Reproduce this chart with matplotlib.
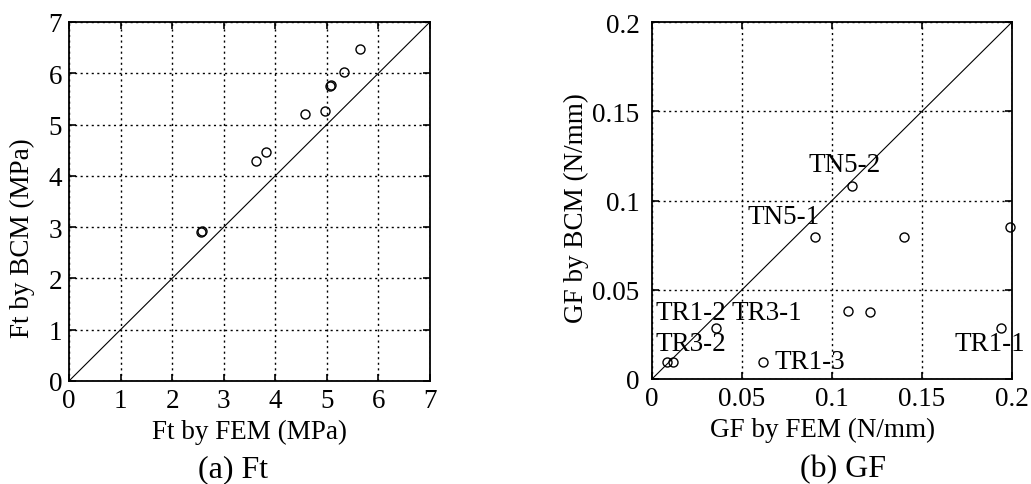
import numpy as np
import matplotlib
matplotlib.use("Agg")
import matplotlib.pyplot as plt

plt.rcParams["font.family"] = ["Liberation Serif", "DejaVu Serif"]

# (a) Ft  -- FEM vs BCM (MPa)
ft_fem = [2.56, 2.58, 3.63, 3.83, 4.57, 4.96, 5.07, 5.08, 5.33, 5.64]
ft_bcm = [2.91, 2.93, 4.29, 4.47, 5.21, 5.27, 5.75, 5.77, 6.02, 6.47]

# (b) GF  -- FEM vs BCM (N/mm)
gf_fem = [0.0085, 0.0115, 0.0356, 0.0615, 0.0904, 0.109, 0.111, 0.121, 0.140, 0.194, 0.199]
gf_bcm = [0.0097, 0.0097, 0.0286, 0.0097, 0.0797, 0.0383, 0.108, 0.0377, 0.0797, 0.0286, 0.0853]

gf_labels = ["TN5-2", "TN5-1", "TR1-2", "TR3-1", "TR3-2", "TR1-3", "TR1-1"]
gf_label_x = [0.107, 0.073, 0.002, 0.044, 0.002, 0.068, 0.168]
gf_label_y = [0.120, 0.091, 0.037, 0.037, 0.020, 0.0099, 0.020]
gf_label_ha = ["center", "center", "left", "left", "left", "left", "left"]

fig = plt.figure(figsize=(10.31, 4.85), dpi=100)
ax1 = fig.add_axes([0.0669, 0.2124, 0.3501, 0.7402])
ax2 = fig.add_axes([0.6324, 0.2165, 0.3492, 0.7360])

fs = 19.5

def style(ax):
    ax.grid(True, color="black", linestyle=(0, (1.5, 2.5)), linewidth=1.0)
    ax.tick_params(direction="in", top=True, right=True, length=5, width=1.2,
                   labelsize=fs, pad=5)
    for s in ax.spines.values():
        s.set_linewidth(1.3)
        s.set_color("black")

# left panel
ax1.plot([0, 7], [0, 7], color="black", linewidth=0.8)
ax1.plot(ft_fem, ft_bcm, "o", mfc="none", mec="black", ms=6.5, mew=1.0)
ax1.set_xlim(0, 7)
ax1.set_ylim(0, 7)
ax1.set_xticks(range(0, 8))
ax1.set_yticks(range(0, 8))
style(ax1)
ax1.set_xlabel("Ft by FEM (MPa)", fontsize=fs, labelpad=4)
ax1.set_ylabel("Ft by BCM (MPa)", fontsize=fs)
ax1.yaxis.set_label_coords(-0.094, 0.40)

# right panel
ax2.plot([0, 0.2], [0, 0.2], color="black", linewidth=0.8)
ax2.plot(gf_fem, gf_bcm, "o", mfc="none", mec="black", ms=6.5, mew=1.0, clip_on=False)
ax2.set_xlim(0, 0.2)
ax2.set_ylim(0, 0.2)
ax2.set_xticks([0, 0.05, 0.1, 0.15, 0.2])
ax2.set_xticklabels(["0", "0.05", "0.1", "0.15", "0.2"])
ax2.set_yticks([0, 0.05, 0.1, 0.15, 0.2])
ax2.set_yticklabels(["0", "0.05", "0.1", "0.15", "0.2"])
style(ax2)
ax2.tick_params(axis="y", pad=9)
ax2.set_xlabel("GF by FEM (N/mm)", fontsize=fs)
ax2.xaxis.set_label_coords(0.475, -0.107)
ax2.set_ylabel("GF by BCM (N/mm)", fontsize=fs)
ax2.yaxis.set_label_coords(-0.176, 0.482)

for lab, x, y, ha in zip(gf_labels, gf_label_x, gf_label_y, gf_label_ha):
    ax2.text(x, y, lab, fontsize=fs, ha=ha, va="center", clip_on=False)

fig.text(0.226, 0.032, "(a) Ft", fontsize=23, ha="center", va="center")
fig.text(0.818, 0.032, "(b) GF", fontsize=23, ha="center", va="center")

fig.savefig("out.png", dpi=100)
